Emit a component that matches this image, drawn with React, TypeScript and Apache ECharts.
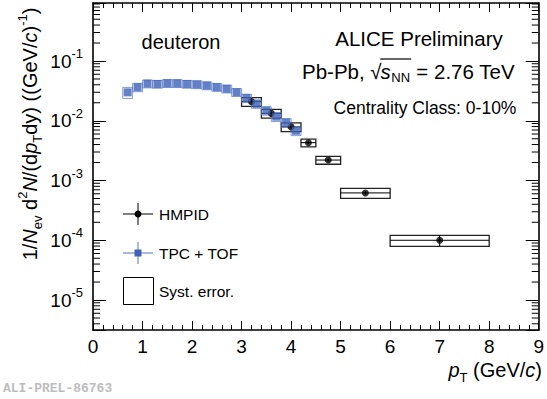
import React, { useEffect, useRef } from 'react';
import * as echarts from 'echarts';

const FONT = '"Liberation Sans", Arial, Helvetica, sans-serif';

// TPC + TOF (blue squares), bins of 0.2 GeV/c
const tofPt = [0.7, 0.9, 1.1, 1.3, 1.5, 1.7, 1.9, 2.1, 2.3, 2.5, 2.7, 2.9, 3.1, 3.3, 3.5, 3.7, 3.9, 4.1];
const tofYield = [0.0299, 0.0365, 0.0418, 0.0412, 0.0424, 0.0423, 0.0412, 0.0405, 0.0388, 0.0365, 0.0343, 0.0300, 0.0240, 0.0192, 0.0148, 0.0117, 0.0093, 0.0068];
const tofSyst = [0.21, 0.16, 0.15, 0.15, 0.15, 0.15, 0.15, 0.15, 0.15, 0.15, 0.15, 0.15, 0.16, 0.16, 0.16, 0.17, 0.17, 0.17];
const tofHalfBin = 0.1;

// HMPID (black circles)
const hmpidPt = [3.2, 3.6, 4.0, 4.35, 4.75, 5.5, 7.0];
const hmpidLo = [3.0, 3.4, 3.8, 4.2, 4.5, 5.0, 6.0];
const hmpidHi = [3.4, 3.8, 4.2, 4.5, 5.0, 6.0, 8.0];
const hmpidYield = [0.0209, 0.0133, 0.0079, 0.0043, 0.0022, 0.00062, 0.0001];
const hmpidStat = [0.03, 0.03, 0.04, 0.05, 0.06, 0.07, 0.2];
const hmpidSyst = [0.17, 0.17, 0.17, 0.15, 0.15, 0.19, 0.21];

// axes
const xMin = 0;
const xMax = 9;
const yMin = 3.15e-6;
const yMax = 0.935;
const yMantissas = [2, 3, 4, 5, 6, 7, 8, 9];
const yDecadeExps = [-6, -5, -4, -3, -2, -1];

const supRich = (size: number) => ({ fontSize: size, fontFamily: FONT, color: '#000', lineHeight: 26, padding: [0, 0, 15, 0] });
const subRich = (size: number) => ({ fontSize: size, fontFamily: FONT, color: '#000', lineHeight: 26, padding: [14, 0, 0, 0] });

function measure(t: string, size: number, italic = false) {
  const c = document.createElement('canvas').getContext('2d')!;
  c.font = `${italic ? 'italic ' : ''}${size}px ${FONT}`;
  return c.measureText(t).width;
}

function buildOption() {
  const yMinor: number[][] = [];
  yDecadeExps.forEach((e) => {
    yMantissas.forEach((m) => {
      const v = m * Math.pow(10, e);
      if (v > yMin && v < yMax) yMinor.push([0, v]);
    });
  });

  const tofBoxes = tofPt.map((x, i) => [x - tofHalfBin, x + tofHalfBin, tofYield[i] * (1 - tofSyst[i]), tofYield[i] * (1 + tofSyst[i])]);
  const hmpidBoxes = hmpidPt.map((x, i) => [hmpidLo[i], hmpidHi[i], hmpidYield[i] * (1 - hmpidSyst[i]), hmpidYield[i] * (1 + hmpidSyst[i])]);
  const hmpidBars = hmpidPt.map((x, i) => [x, hmpidYield[i], hmpidLo[i], hmpidHi[i], hmpidYield[i] * (1 - hmpidStat[i]), hmpidYield[i] * (1 + hmpidStat[i])]);

  const boxRender = (stroke: string, lw: number) => (params: any, api: any) => {
    const p1 = api.coord([api.value(0), api.value(3)]);
    const p2 = api.coord([api.value(1), api.value(2)]);
    return {
      type: 'rect',
      shape: { x: p1[0], y: p1[1], width: p2[0] - p1[0], height: p2[1] - p1[1] },
      style: { fill: 'none', stroke, lineWidth: lw },
    };
  };

  const xAxisBase = (pos: 'bottom' | 'top', labels: boolean) => ({
    type: 'value',
    position: pos,
    min: xMin,
    max: xMax,
    interval: 1,
    axisLine: { show: true, onZero: false, lineStyle: { color: '#000', width: 1.6 } },
    axisTick: { show: true, inside: true, length: 9, lineStyle: { color: '#000', width: 1 } },
    minorTick: { show: true, splitNumber: 5, length: 5, lineStyle: { color: '#000', width: 1 } },
    splitLine: { show: false },
    minorSplitLine: { show: false },
    axisLabel: { show: labels, fontSize: 19, fontFamily: FONT, color: '#000', margin: 7 },
  });

  const yAxisBase = (pos: 'left' | 'right', labels: boolean) => ({
    type: 'log',
    logBase: 10,
    position: pos,
    min: yMin,
    max: yMax,
    axisLine: { show: true, onZero: false, lineStyle: { color: '#000', width: 1.6 } },
    axisTick: { show: true, inside: true, length: 13, lineStyle: { color: '#000', width: 1 } },
    minorTick: { show: false },
    splitLine: { show: false },
    minorSplitLine: { show: false },
    axisLabel: {
      show: labels,
      margin: 10,
      formatter: (v: number) => {
        const l = Math.log10(v);
        const r = Math.round(l);
        if (Math.abs(l - r) > 0.01) return '';
        return `{b|10}{s|${r}}`;
      },
      rich: {
        b: { fontSize: 19, fontFamily: FONT, color: '#000', lineHeight: 26 },
        s: supRich(13),
      },
    },
  });

  // Pb-Pb line pieces
  const big = 20.5;
  const ppX = 302;
  const ppY = 71;
  const w1 = measure('Pb-Pb, ', big);
  const wSqrt = measure('\u221A', big);
  const wS = measure('s', big, true);
  const wNN = measure('NN', 13);
  const sX = ppX + w1 + wSqrt - 1;

  const txt = (x: number, y: number, text: string, size: number, extra: any = {}) => ({
    type: 'text',
    x,
    y,
    style: { text, fontSize: size, fontFamily: FONT, fill: '#000', textAlign: 'left', textVerticalAlign: 'middle', ...extra },
  });

  const legendBlue = '#3f62b8';

  const graphic: any[] = [
    // texts
    txt(181, 42, 'deuteron', 20, { textAlign: 'center' }),
    txt(419, 38, 'ALICE Preliminary', big, { textAlign: 'center' }),
    txt(ppX, ppY, 'Pb-Pb, \u221A', big),
    txt(sX, ppY, 's', big, { fontStyle: 'italic' }),
    txt(sX + wS + 0.5, ppY + 6, 'NN', 13),
    txt(sX + wS + wNN + 1, ppY, ' = 2.76 TeV', big),
    { type: 'line', shape: { x1: sX - 0.5, y1: ppY - 12, x2: sX + wS + wNN + 1.5, y2: ppY - 12 }, style: { stroke: '#000', lineWidth: 1.2 } },
    txt(425, 108, 'Centrality Class: 0-10%', 17.5, { textAlign: 'center' }),
    // y title
    {
      type: 'text',
      x: 30,
      y: 134,
      rotation: Math.PI / 2,
      style: {
        text: '{n|1/}{i|N}{sb|ev}{n| d}{sp|2}{i|N}{n|/(d}{i|p}{sb|T}{n|dy) ((GeV/}{i|c}{n|)}{sp|-1}{n|)}',
        textAlign: 'center',
        textVerticalAlign: 'middle',
        rich: {
          n: { fontSize: 20, fontFamily: FONT, color: '#000', lineHeight: 26 },
          i: { fontSize: 20, fontFamily: FONT, fontStyle: 'italic', color: '#000', lineHeight: 26 },
          sb: subRich(13),
          sp: supRich(13),
        },
      },
    },
    // x title
    {
      type: 'text',
      x: 542,
      y: 370,
      style: {
        text: '{i|p}{sb|T}{n| (GeV/}{i|c}{n|)}',
        textAlign: 'right',
        textVerticalAlign: 'middle',
        rich: {
          n: { fontSize: 20, fontFamily: FONT, color: '#000', lineHeight: 26 },
          i: { fontSize: 20, fontFamily: FONT, fontStyle: 'italic', color: '#000', lineHeight: 26 },
          sb: subRich(13),
        },
      },
    },
    // watermark
    txt(3, 388, 'ALI-PREL-86763', 13, { fontFamily: '"Liberation Mono", "DejaVu Sans Mono", monospace', fontWeight: 'bold', fill: '#bdbdbd' }),
    // legend: HMPID
    { type: 'line', shape: { x1: 123, y1: 214, x2: 153, y2: 214 }, style: { stroke: '#000', lineWidth: 1 } },
    { type: 'line', shape: { x1: 138, y1: 203, x2: 138, y2: 225 }, style: { stroke: '#000', lineWidth: 1 } },
    { type: 'circle', shape: { cx: 138, cy: 214, r: 3.5 }, style: { fill: '#000' } },
    txt(159, 214, 'HMPID', 15.5),
    // legend: TPC + TOF
    { type: 'line', shape: { x1: 123, y1: 253, x2: 153, y2: 253 }, style: { stroke: '#5a74b8', lineWidth: 1 } },
    { type: 'line', shape: { x1: 138, y1: 242, x2: 138, y2: 264 }, style: { stroke: '#5a74b8', lineWidth: 1 } },
    { type: 'rect', shape: { x: 134.5, y: 249.5, width: 7, height: 7 }, style: { fill: legendBlue } },
    txt(159, 253, 'TPC + TOF', 15.5),
    // legend: syst
    { type: 'rect', shape: { x: 123.5, y: 277.5, width: 30, height: 27 }, style: { fill: 'none', stroke: '#000', lineWidth: 1 } },
    txt(159, 291, 'Syst. error.', 15.5),
  ];

  return {
    animation: false,
    backgroundColor: '#fff',
    grid: { left: 93, right: 6, top: 3, bottom: 69, show: false },
    xAxis: [xAxisBase('bottom', true), xAxisBase('top', false)],
    yAxis: [yAxisBase('left', true), yAxisBase('right', false)],
    graphic,
    series: [
      {
        type: 'custom',
        name: 'yMinorTicks',
        silent: true,
        data: yMinor,
        encode: { x: 0, y: 1 },
        renderItem: (params: any, api: any) => {
          const p = api.coord([0, api.value(1)]);
          const cs = params.coordSys;
          const l = cs.x;
          const r = cs.x + cs.width;
          return {
            type: 'group',
            children: [
              { type: 'line', shape: { x1: l, y1: p[1], x2: l + 7, y2: p[1] }, style: { stroke: '#000', lineWidth: 1 } },
              { type: 'line', shape: { x1: r - 7, y1: p[1], x2: r, y2: p[1] }, style: { stroke: '#000', lineWidth: 1 } },
            ],
          };
        },
      },
      {
        type: 'custom',
        name: 'HMPID syst',
        data: hmpidBoxes,
        encode: { x: [0, 1], y: [2, 3] },
        renderItem: boxRender('#222', 1.3),
      },
      {
        type: 'custom',
        name: 'HMPID err',
        data: hmpidBars,
        encode: { x: [0, 2, 3], y: [1, 4, 5] },
        renderItem: (params: any, api: any) => {
          const c = api.coord([api.value(0), api.value(1)]);
          const l = api.coord([api.value(2), api.value(1)]);
          const r = api.coord([api.value(3), api.value(1)]);
          const lo = api.coord([api.value(0), api.value(4)]);
          const hi = api.coord([api.value(0), api.value(5)]);
          return {
            type: 'group',
            children: [
              { type: 'line', shape: { x1: l[0], y1: c[1], x2: r[0], y2: c[1] }, style: { stroke: '#000', lineWidth: 1 } },
              { type: 'line', shape: { x1: c[0], y1: hi[1], x2: c[0], y2: lo[1] }, style: { stroke: '#000', lineWidth: 1 } },
            ],
          };
        },
      },
      {
        type: 'scatter',
        name: 'HMPID',
        symbol: 'circle',
        symbolSize: 7,
        itemStyle: { color: '#000' },
        data: hmpidPt.map((x, i) => [x, hmpidYield[i]]),
      },
      {
        type: 'custom',
        name: 'TPC + TOF syst',
        data: tofBoxes,
        encode: { x: [0, 1], y: [2, 3] },
        renderItem: boxRender('rgba(90,125,205,0.75)', 1),
      },
      {
        type: 'scatter',
        name: 'TPC + TOF',
        symbol: 'rect',
        symbolSize: 8,
        itemStyle: { color: legendBlue },
        data: tofPt.map((x, i) => [x, tofYield[i]]),
      },
    ],
  };
}

export default function App() {
  const ref = useRef<HTMLDivElement>(null);
  useEffect(() => {
    const chart = echarts.init(ref.current!, null, { renderer: 'svg' });
    chart.setOption(buildOption() as any);
    return () => chart.dispose();
  }, []);
  return (
    <div
      ref={ref}
      style={{ position: 'fixed', left: 0, top: 0, width: 547, height: 399, background: '#fff' }}
    />
  );
}
